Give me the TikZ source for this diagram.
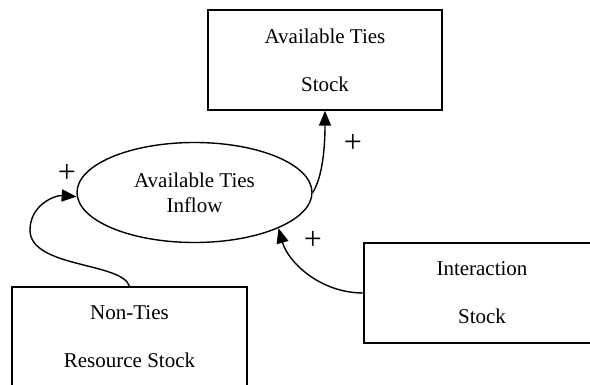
\documentclass[tikz,border=0pt]{standalone}
\usepackage{fontspec}
\setmainfont{Liberation Serif}
\usetikzlibrary{shapes.geometric,arrows.meta}
\begin{document}
\begin{tikzpicture}[x=1pt,y=-1pt,
  stockbox/.style={draw,line width=1.4pt,rectangle,minimum width=234pt,minimum height=100pt,inner sep=0pt,align=center,font=\fontsize{21}{24}\selectfont},
  flowell/.style={draw,line width=1.4pt,ellipse,minimum width=235pt,minimum height=100pt,inner sep=0pt,align=center,font=\fontsize{21}{25}\selectfont},
  link/.style={line width=1.4pt,-{Triangle[length=15pt,width=12pt]}},
  sign/.style={font=\fontsize{32}{32}\selectfont,inner sep=0pt}]
\useasboundingbox (0,0) rectangle (590,385);
\clip (0,0) rectangle (590,385);
\node[stockbox] (avail) at (325,60) {Available Ties\\[24pt]Stock};
\node[flowell] (inflow) at (194.5,192.5) {Available Ties\\Inflow};
\node[stockbox,minimum width=236pt] (inter) at (482,293) {Interaction\\[24pt]Stock};
\node[stockbox,minimum width=235pt] (nontie) at (129.5,337) {Non-Ties\\[24pt]Resource Stock};
\draw[link] (inflow.east) .. controls (322,178) and (325,150) .. (avail.south);
\draw[link] (inter.west) .. controls (320,293) and (288,262) .. (inflow.-23);
\draw[link] (nontie.north) .. controls (122,262) and (30,268) .. (30,230) coordinate (bend)
  .. controls (30,205) and (55,195) .. (inflow.182);
\node[sign] (p1) at (67,173) {+};
\node[sign] (p2) at (353,143) {+};
\node[sign] (p3) at (313,240) {+};
\end{tikzpicture}
\end{document}
